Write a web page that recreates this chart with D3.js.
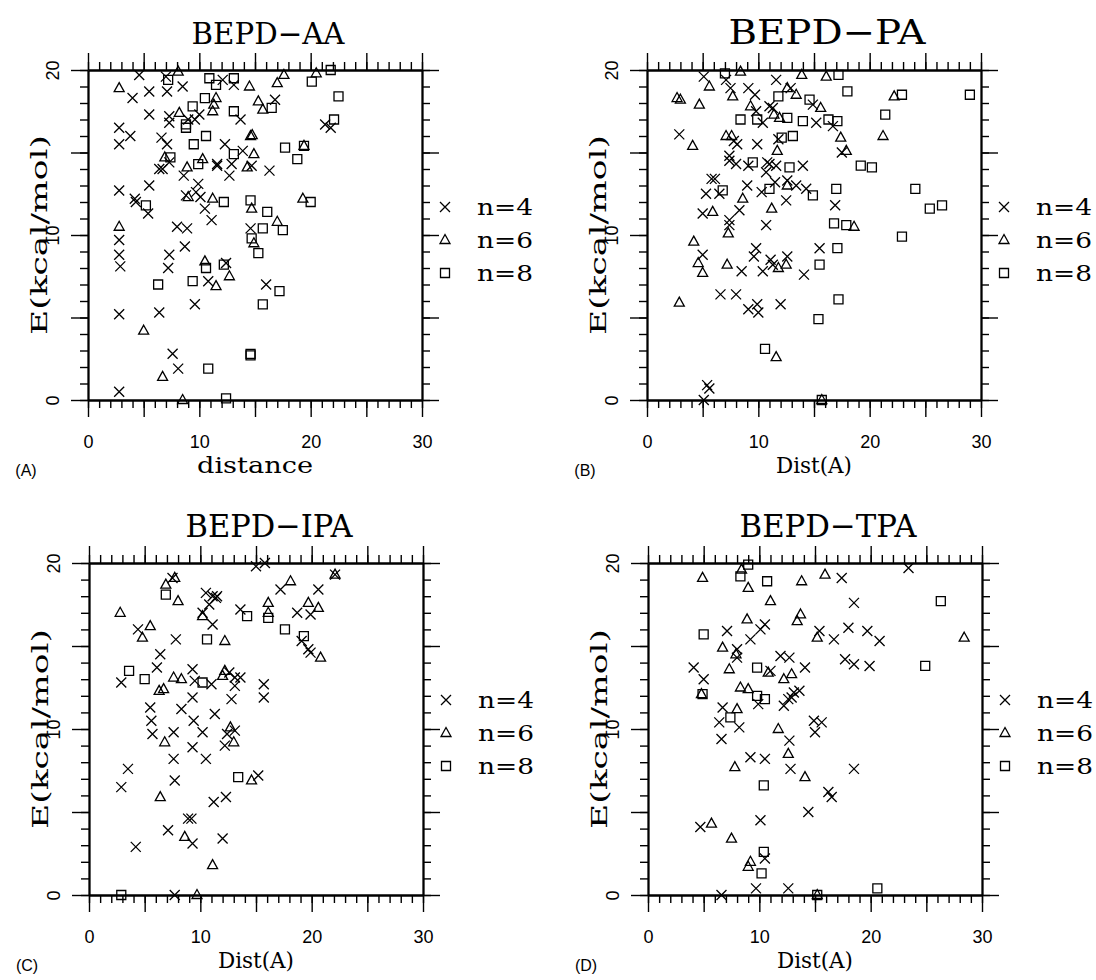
<!DOCTYPE html>
<html>
<head>
<meta charset="utf-8">
<script src="https://cdnjs.cloudflare.com/ajax/libs/d3/7.8.5/d3.min.js"></script>
<style>
  body { margin: 0; background: #fff; }
  .tick line, .domain { stroke: #000; stroke-width: 1.4px; }
  .tick text { font-family: "Liberation Sans", Arial, sans-serif; font-size: 18px; fill: #000; }
  .serif { font-family: "DejaVu Serif", serif; fill: #000; }
  .mark { fill: none; stroke: #000; stroke-width: 1.3px; }
</style>
</head>
<body>
<div id="chart"></div>
<script>
// BEPD-AA
var aaN4 = [[4.6,19.7],[7.0,19.6],[8.5,19.0],[4.0,18.3],[5.5,18.7],[7.1,18.7],[12.1,19.4],[13.1,19.1],[5.5,17.3],[7.3,17.2],[7.3,16.8],[9.0,17.0],[9.6,17.0],[10.0,17.3],[13.7,17.0],[2.8,16.5],[3.8,16.0],[2.8,15.5],[6.6,15.9],[7.1,15.5],[12.3,15.5],[13.9,15.1],[7.3,14.4],[6.4,14.0],[6.7,14.0],[11.6,14.3],[11.6,14.2],[12.9,14.3],[12.7,13.6],[14.7,14.2],[16.3,13.9],[8.6,13.6],[5.5,13.0],[2.8,12.7],[4.2,12.2],[4.3,12.0],[5.4,11.3],[9.9,13.1],[8.8,12.4],[9.7,12.6],[10.1,12.3],[10.5,11.6],[11.1,10.9],[8.0,10.5],[8.9,10.4],[2.8,9.7],[2.8,8.8],[2.9,8.1],[7.3,8.8],[7.2,8.0],[8.7,9.3],[12.4,8.3],[10.8,7.2],[9.6,5.8],[2.8,5.2],[6.4,5.3],[7.6,2.8],[8.1,1.9],[2.8,0.5],[16.8,18.2],[21.3,16.7],[21.8,16.5],[14.6,10.4],[16.0,7.0]];
var aaN6 = [[8.1,19.9],[2.8,18.9],[14.5,19.0],[11.5,18.3],[11.3,17.9],[11.2,17.5],[8.2,17.4],[14.6,16.0],[14.75,16.05],[6.9,14.7],[8.9,14.1],[10.3,14.6],[14.3,14.1],[14.9,14.9],[9.0,12.3],[11.2,12.2],[14.7,11.6],[2.8,10.5],[10.5,8.4],[12.7,7.5],[11.5,6.9],[5.0,4.2],[6.7,1.4],[8.5,0.0],[17.6,19.7],[17.0,19.2],[20.5,19.8],[15.3,18.1],[15.7,17.6],[19.4,15.4],[19.3,12.2],[17.0,10.8],[14.9,9.5]];
var aaN8 = [[7.2,19.4],[10.9,19.5],[11.5,19.1],[13.1,19.5],[10.5,18.3],[9.4,17.8],[8.8,16.7],[8.8,16.5],[13.1,17.5],[10.6,16.0],[9.5,15.5],[13.1,14.9],[7.4,14.7],[9.9,14.3],[5.2,11.8],[12.2,12.0],[14.6,12.1],[10.6,8.0],[12.2,8.2],[6.3,7.0],[9.4,7.2],[10.8,1.9],[12.4,0.1],[20.1,19.3],[21.8,20.0],[22.5,18.4],[16.5,17.7],[22.1,17.0],[17.7,15.3],[19.4,15.4],[18.8,14.6],[20.0,12.0],[16.1,11.4],[15.7,10.4],[17.5,10.3],[14.7,9.8],[15.3,8.9],[17.2,6.6],[15.7,5.8],[14.6,2.8],[14.6,2.7]];

// BEPD-PA
var paN4 = [[5.1,19.6],[7.1,19.4],[7.5,18.9],[9.1,18.9],[9.7,18.5],[11.6,19.4],[12.9,18.9],[9.8,17.5],[11.0,17.8],[11.3,17.7],[10.4,16.8],[2.9,16.1],[7.8,15.7],[8.1,15.5],[9.9,15.5],[11.8,15.8],[7.4,14.8],[7.4,14.5],[8.0,14.3],[9.1,14.2],[10.8,14.4],[11.0,14.3],[10.7,13.8],[11.6,14.2],[5.8,13.4],[6.1,13.4],[5.3,12.5],[6.5,12.5],[9.0,13.0],[10.3,12.6],[11.5,13.2],[12.6,13.3],[12.5,12.1],[5.0,11.3],[8.3,11.5],[7.4,10.9],[7.4,10.6],[10.7,10.6],[5.0,8.8],[8.5,7.8],[9.8,9.2],[9.6,8.7],[10.4,7.8],[11.1,8.5],[11.3,8.2],[12.6,8.7],[6.6,6.4],[8.0,6.4],[9.1,5.5],[9.9,5.8],[10.0,5.3],[12.0,5.8],[5.4,0.9],[5.6,0.7],[5.1,0.0],[14.9,17.9],[15.2,16.8],[16.7,16.6],[17.5,15.0],[14.0,14.2],[13.4,13.0],[14.3,12.8],[16.9,11.8],[15.5,9.2],[14.1,7.6]];
var paN6 = [[8.4,19.9],[5.6,19.0],[7.7,18.4],[12.6,18.9],[13.4,18.5],[2.7,18.3],[3.0,18.2],[4.7,17.9],[9.3,17.8],[11.4,17.3],[11.9,17.1],[4.1,15.4],[7.1,16.0],[7.6,16.0],[11.7,15.1],[12.6,13.0],[8.6,12.2],[5.9,11.4],[11.2,11.6],[7.3,10.1],[4.2,9.6],[4.6,8.3],[5.0,7.7],[7.2,8.2],[11.8,8.0],[12.5,8.2],[2.9,5.9],[11.6,2.6],[13.9,19.7],[16.1,19.6],[22.2,18.4],[15.6,17.7],[17.4,15.9],[21.2,16.0],[17.9,15.1],[18.6,10.5],[15.7,0.0]];
var paN8 = [[7.0,19.8],[11.8,18.4],[8.4,17.0],[9.9,17.0],[12.6,17.1],[12.1,15.9],[13.1,16.0],[9.5,14.4],[12.8,14.1],[6.8,12.7],[11.0,12.8],[10.6,3.1],[17.2,19.7],[18.0,18.7],[22.9,18.5],[14.6,18.2],[14.0,16.9],[16.3,17.0],[17.1,16.9],[21.4,17.3],[19.2,14.2],[20.2,14.1],[14.9,12.4],[17.0,12.8],[24.1,12.8],[25.4,11.6],[26.5,11.8],[16.8,10.7],[17.9,10.6],[22.9,9.9],[17.1,9.2],[15.5,8.2],[17.2,6.1],[15.4,4.9],[15.7,0.0],[29.0,18.5]];

// BEPD-IPA
var ipaN4 = [[7.5,19.1],[10.5,18.2],[11.1,18.0],[11.4,17.9],[11.5,18.0],[10.8,17.5],[10.2,17.0],[11.1,16.3],[4.4,16.0],[7.8,15.4],[13.6,17.2],[6.4,14.5],[6.1,13.7],[2.9,12.8],[9.3,13.6],[9.5,12.9],[11.0,12.7],[12.6,13.4],[13.1,13.1],[13.6,13.1],[13.1,12.6],[9.3,11.9],[12.8,11.8],[5.5,11.3],[8.3,11.2],[5.6,10.5],[9.4,10.5],[11.3,10.9],[5.7,9.7],[7.6,9.8],[10.2,9.8],[13.1,9.9],[12.4,9.7],[12.2,9.0],[9.3,8.9],[7.6,8.2],[10.5,8.2],[3.5,7.6],[7.7,6.9],[2.9,6.5],[11.2,5.6],[12.3,5.9],[8.9,4.6],[9.2,4.6],[7.1,3.9],[9.3,3.1],[12.0,3.4],[4.2,2.9],[7.7,0.0],[15.0,19.8],[15.8,20.0],[22.1,19.3],[17.2,18.4],[20.6,18.4],[18.7,17.0],[19.9,16.9],[19.1,15.3],[19.7,14.8],[19.9,14.6],[15.7,12.7],[15.7,11.9],[15.2,7.2]];
var ipaN6 = [[7.7,19.1],[6.9,18.7],[8.0,17.7],[10.2,16.8],[2.8,17.0],[5.5,16.2],[4.8,15.5],[12.2,15.3],[7.6,13.1],[8.3,13.0],[12.0,13.2],[12.2,13.5],[6.3,12.3],[6.7,12.4],[12.7,10.1],[13.0,9.2],[6.8,9.2],[6.4,5.9],[8.6,3.5],[11.1,1.8],[9.7,0.0],[22.1,19.3],[18.1,18.9],[16.1,17.6],[16.1,17.0],[19.7,17.6],[20.6,17.3],[20.8,14.3],[14.6,6.9]];
var ipaN8 = [[6.9,18.1],[10.6,15.4],[14.2,16.8],[3.6,13.5],[5.0,13.0],[10.2,12.8],[13.4,7.1],[2.9,0.0],[16.1,16.7],[17.6,16.0],[19.3,15.6]];

// BEPD-TPA
var tpaN4 = [[10.5,16.3],[10.1,16.0],[7.1,15.9],[9.2,15.4],[8.0,14.8],[8.0,14.3],[4.1,13.7],[5.0,13.0],[11.0,13.5],[11.9,14.4],[12.7,14.3],[9.9,11.5],[12.2,11.4],[12.6,11.8],[12.9,11.9],[6.7,11.3],[6.4,10.4],[8.2,10.1],[6.6,9.4],[12.7,9.3],[9.2,8.3],[10.5,8.2],[12.8,7.6],[10.1,4.5],[4.7,4.1],[10.5,2.2],[9.7,0.4],[12.6,0.4],[6.6,0.0],[23.4,19.7],[17.4,19.1],[18.5,17.6],[15.4,15.9],[16.7,15.4],[18.0,16.1],[19.7,15.9],[20.8,15.3],[17.7,14.2],[18.5,13.9],[19.9,13.8],[14.1,13.7],[13.1,12.2],[13.6,12.3],[14.9,10.5],[15.6,10.4],[15.0,9.8],[18.5,7.6],[16.2,6.2],[16.5,5.9],[14.4,5.0]];
var tpaN6 = [[4.9,19.1],[8.4,19.6],[9.0,18.5],[11.0,17.7],[8.9,16.6],[6.7,14.9],[7.9,14.5],[7.3,13.6],[10.8,13.4],[12.2,13.0],[12.9,13.3],[4.8,12.1],[8.3,12.5],[9.0,12.4],[8.0,11.2],[11.7,10.0],[12.6,8.5],[7.8,7.7],[5.7,4.3],[7.5,3.4],[9.2,2.0],[9.0,1.7],[13.8,18.9],[15.9,19.3],[13.7,16.9],[13.4,16.5],[15.2,15.5],[14.1,7.1],[15.2,0.0],[28.4,15.5]];
var tpaN8 = [[9.0,19.9],[8.3,19.2],[10.7,18.9],[5.0,15.7],[9.8,13.7],[4.9,12.1],[9.8,12.0],[10.5,11.8],[7.4,10.7],[10.4,6.6],[10.4,2.6],[10.2,1.3],[26.3,17.7],[24.9,13.8],[15.2,0.0],[20.6,0.4]];

var xDomain = [0, 30];
var yDomain = [0, 20];
var xLabelTicks = [0, 10, 20, 30];
var yLabelTicks = [0, 10, 20];
var legendLabels = ["n=4", "n=6", "n=8"];
var markerTypes = ["cross", "triangle", "square"];

var Chart = {
  W: 1096,
  H: 980,
  svg: null,

  panels: [
    { title: "BEPD\u2212AA",  titleSize: 30, titleLen: 153, tag: "(A)", xlabel: "distance", xlabelLen: 116,
      left: 88,  top: 70,  right: 422, bottom: 400, series: [aaN4, aaN6, aaN8] },
    { title: "BEPD\u2212PA",  titleSize: 34, titleLen: 197, tag: "(B)", xlabel: "Dist(A)", xlabelLen: 76,
      left: 647, top: 70,  right: 981, bottom: 400, series: [paN4, paN6, paN8] },
    { title: "BEPD\u2212IPA", titleSize: 32, titleLen: 167, tag: "(C)", xlabel: "Dist(A)", xlabelLen: 76,
      left: 89,  top: 563, right: 423, bottom: 895, series: [ipaN4, ipaN6, ipaN8] },
    { title: "BEPD\u2212TPA", titleSize: 32, titleLen: 177, tag: "(D)", xlabel: "Dist(A)", xlabelLen: 76,
      left: 648, top: 563, right: 982, bottom: 895, series: [tpaN4, tpaN6, tpaN8] }
  ],

  buildSvg: function(){
    this.svg = d3.select("#chart")
      .append("svg")
      .attr("width", this.W)
      .attr("height", this.H);
  },

  markerPath: function(type){
    if (type === "cross") return "M-5,-5L5,5M-5,5L5,-5";
    if (type === "triangle") return "M0,-5.5L5,3.5L-5,3.5Z";
    return "M-4.5,-4.5H4.5V4.5H-4.5Z";
  },

  drawPanel: function(p){
    var that = this;
    var x = d3.scaleLinear().domain(xDomain).range([p.left, p.right]);
    var y = d3.scaleLinear().domain(yDomain).range([p.bottom, p.top]);
    var g = this.svg.append("g");
    var minorX = d3.range(xDomain[0], xDomain[1] + 1);
    var majorX = d3.range(xDomain[0], xDomain[1] + 1, 5);
    var minorY = d3.range(yDomain[0], yDomain[1] + 1);
    var majorY = d3.range(yDomain[0], yDomain[1] + 1, 5);
    var xFmt = function(d){ return xLabelTicks.indexOf(d) >= 0 ? d : ""; };

    // bottom
    g.append("g").attr("transform", "translate(0," + p.bottom + ")")
      .call(d3.axisBottom(x).tickValues(minorX).tickSize(8).tickSizeOuter(0).tickFormat(""));
    g.append("g").attr("transform", "translate(0," + p.bottom + ")")
      .call(d3.axisBottom(x).tickValues(majorX).tickSize(17).tickSizeOuter(0).tickPadding(18).tickFormat(xFmt));
    // top
    g.append("g").attr("transform", "translate(0," + p.top + ")")
      .call(d3.axisTop(x).tickValues(minorX).tickSize(8).tickSizeOuter(0).tickFormat(""));
    g.append("g").attr("transform", "translate(0," + p.top + ")")
      .call(d3.axisTop(x).tickValues(majorX).tickSize(17).tickSizeOuter(0).tickFormat(""));
    // left
    g.append("g").attr("transform", "translate(" + p.left + ",0)")
      .call(d3.axisLeft(y).tickValues(minorY).tickSize(8).tickSizeOuter(0).tickFormat(""));
    var yAx = g.append("g").attr("transform", "translate(" + p.left + ",0)")
      .call(d3.axisLeft(y).tickValues(majorY).tickSize(17).tickSizeOuter(0)
        .tickFormat(function(d){ return yLabelTicks.indexOf(d) >= 0 ? d : ""; }));
    yAx.selectAll(".tick text")
      .attr("transform", "rotate(-90)")
      .attr("x", 0)
      .attr("y", -35)
      .attr("dy", "0.36em")
      .attr("text-anchor", "middle");
    // right
    g.append("g").attr("transform", "translate(" + p.right + ",0)")
      .call(d3.axisRight(y).tickValues(minorY).tickSize(8).tickSizeOuter(0).tickFormat(""));
    g.append("g").attr("transform", "translate(" + p.right + ",0)")
      .call(d3.axisRight(y).tickValues(majorY).tickSize(17).tickSizeOuter(0).tickFormat(""));

    g.selectAll(".domain").style("stroke-width", "1.8px");

    // title
    g.append("text").attr("class", "serif")
      .attr("x", (p.left + p.right) / 2 + 13)
      .attr("y", p.top - 26)
      .attr("text-anchor", "middle")
      .attr("font-size", p.titleSize)
      .attr("textLength", p.titleLen)
      .attr("lengthAdjust", "spacingAndGlyphs")
      .text(p.title);

    // axis titles
    g.append("text").attr("class", "serif")
      .attr("x", (p.left + p.right) / 2)
      .attr("y", p.bottom + 73)
      .attr("text-anchor", "middle")
      .attr("font-size", 22)
      .attr("textLength", p.xlabelLen)
      .attr("lengthAdjust", "spacingAndGlyphs")
      .text(p.xlabel);
    g.append("text").attr("class", "serif")
      .attr("transform", "translate(" + (p.left - 41) + "," + ((p.top + p.bottom) / 2) + ") rotate(-90)")
      .attr("text-anchor", "middle")
      .attr("font-size", 22)
      .attr("textLength", 200)
      .attr("lengthAdjust", "spacingAndGlyphs")
      .text("E(kcal/mol)");
    g.append("text")
      .attr("x", p.left - 62)
      .attr("y", p.bottom + 76)
      .attr("text-anchor", "middle")
      .style("font-family", "Liberation Sans, Arial, sans-serif")
      .attr("font-size", 16)
      .text(p.tag);

    // points
    p.series.forEach(function(s, i){
      g.append("g").selectAll("path")
        .data(s)
        .enter().append("path")
        .attr("class", "mark")
        .attr("transform", function(d){ return "translate(" + x(d[0]) + "," + y(d[1]) + ")"; })
        .attr("d", that.markerPath(markerTypes[i]));
    });

    // legend
    var leg = g.append("g").selectAll("g")
      .data(legendLabels)
      .enter().append("g")
      .attr("transform", function(d, i){ return "translate(" + (p.right + 23) + "," + (p.top + 137 + i * 33) + ")"; });
    leg.append("path").attr("class", "mark")
      .attr("d", function(d, i){ return that.markerPath(markerTypes[i]); });
    leg.append("text").attr("class", "serif")
      .attr("x", 32)
      .attr("dy", "0.36em")
      .attr("font-size", 22)
      .attr("textLength", 56)
      .attr("lengthAdjust", "spacingAndGlyphs")
      .text(function(d){ return d; });
  },

  init: function(){
    var that = this;
    this.buildSvg();
    this.panels.forEach(function(p){ that.drawPanel(p); });
  }
};

Chart.init();
</script>
</body>
</html>
